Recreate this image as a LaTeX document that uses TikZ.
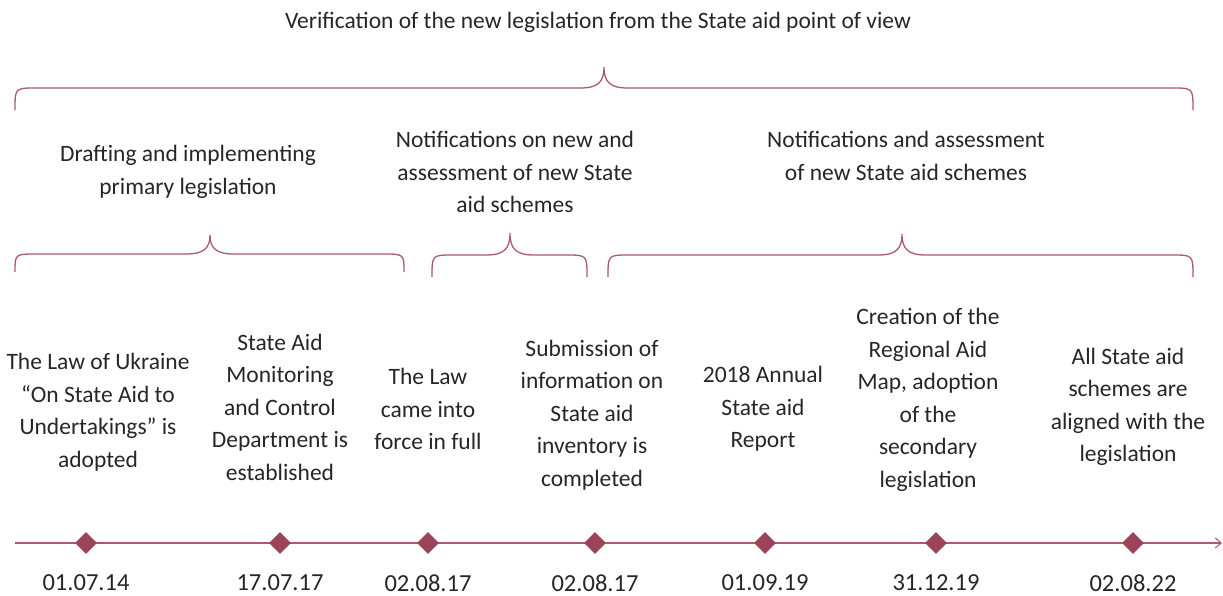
\documentclass[tikz,border=0pt]{standalone}
\usepackage{fontspec}
\setmainfont{Carlito}
\usetikzlibrary{arrows.meta,shapes.geometric}
\definecolor{lineC}{HTML}{A85A6E}
\definecolor{diaC}{HTML}{9B4459}
\definecolor{txtC}{HTML}{262626}
\newcommand\mybrace[6]{%
 \draw[bracestyle] (#1,#5) .. controls (#1,#4) .. (#1+21,#4) -- (#3-24,#4)
   .. controls (#3-6,#4) and (#3,#4-6) .. (#3,#6)
   .. controls (#3,#4-6) and (#3+6,#4) .. (#3+24,#4) -- (#2-21,#4)
   .. controls (#2,#4) .. (#2,#5);}
\begin{document}
\begin{tikzpicture}[x=1pt,y=-1pt,
  bracestyle/.style={draw=lineC,line width=1.3pt},
  lbl/.style={align=center,inner sep=0pt,text=txtC,font=\fontsize{23.5}{32.5}\selectfont},
  datelbl/.style={inner sep=0pt,text=txtC,font=\fontsize{24.5}{28}\selectfont},
  dia/.style={diamond,fill=diaC,minimum size=22pt,inner sep=0pt},
]
\useasboundingbox (0,0) rectangle (1223,595);
% top label and brace
\node[lbl] (top) at (598,22) {Verification of the new legislation from the State aid point of view};
\mybrace{15}{1193}{604}{88}{110}{67}
% group labels
\node[lbl] (g1) at (188,172) {Drafting and implementing\\primary legislation};
\node[lbl] (g2) at (515,172) {Notifications on new and\\assessment of new State\\aid schemes};
\node[lbl] (g3) at (906,156) {Notifications and assessment\\of new State aid schemes};
\mybrace{15}{404}{210}{254}{272}{235}
\mybrace{432}{587}{510}{255}{277}{233}
\mybrace{608}{1193}{902}{255}{277}{234}
% event labels
\node[lbl] (e1) at (98,412) {The Law of Ukraine\\“On State Aid to\\Undertakings” is\\adopted};
\node[lbl] (e2) at (280,407) {State Aid\\Monitoring\\and Control\\Department is\\established};
\node[lbl] (e3) at (428,409) {The Law\\came into\\force in full};
\node[lbl] (e4) at (592,415) {Submission of\\information on\\State aid\\inventory is\\completed};
\node[lbl] (e5) at (763,409) {2018 Annual\\State aid\\Report};
\node[lbl] (e6) at (928,400) {Creation of the\\Regional Aid\\Map, adoption\\of the\\secondary\\legislation};
\node[lbl] (e7) at (1128,407) {All State aid\\schemes are\\aligned with the\\legislation};
% timeline
\coordinate (tstart) at (15,543);
\coordinate (tend) at (1222,543);
\draw[lineC,line width=1.3pt,-{Straight Barb[length=6pt,width=10pt,line width=1pt]}] (tstart) -- (tend);
\foreach \x/\n/\d in {86/d1/01.07.14,280/d2/17.07.17,428/d3/02.08.17,595/d4/02.08.17,765/d5/01.09.19,936/d6/31.12.19,1133/d7/02.08.22}{
  \node[dia] (\n) at (\x,543) {};
  \node[datelbl] (\n t) at (\x,583) {\d};
}
\end{tikzpicture}
\end{document}
